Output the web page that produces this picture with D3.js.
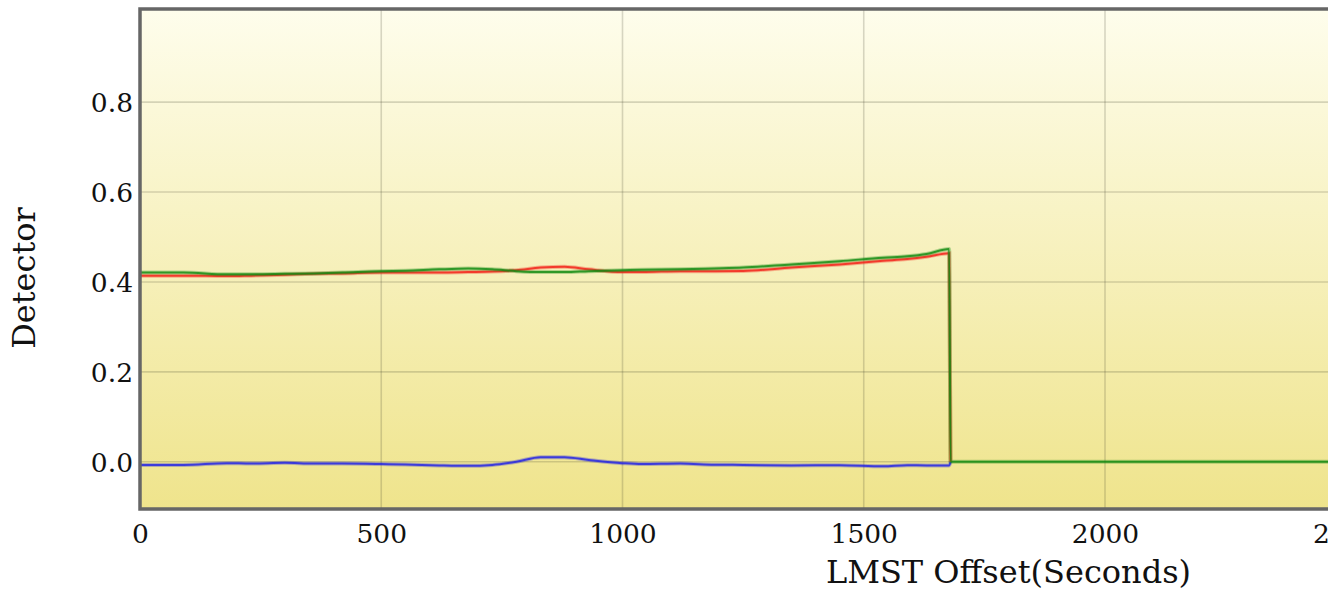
<!DOCTYPE html>
<html>
<head>
<meta charset="utf-8">
<script src="https://cdn.jsdelivr.net/npm/d3@7"></script>
<style>
html,body{margin:0;padding:0;background:#fff;overflow:hidden;}
svg{display:block;}
text{font-family:"DejaVu Serif",serif;fill:#111;}
</style>
</head>
<body>
<svg id="chart" width="1328" height="591"></svg>
<script>
// ---- data ----
const times = [0, 90, 180, 230, 300, 360, 420, 500, 550, 620, 680, 730, 780, 830, 880, 930, 1000, 1040, 1120, 1190, 1250, 1350, 1450, 1540, 1590, 1630, 1677, 1680, 3600];
const redValues = [0.414, 0.414, 0.413, 0.414, 0.416, 0.418, 0.419, 0.421, 0.421, 0.421, 0.422, 0.423, 0.426, 0.432, 0.434, 0.428, 0.422, 0.422, 0.424, 0.424, 0.4245, 0.432, 0.439, 0.447, 0.451, 0.456, 0.464, 0];
const blueValues = [-0.007, -0.007, -0.003, -0.004, -0.002, -0.004, -0.004, -0.005, -0.006, -0.008, -0.009, -0.007, 0.000, 0.010, 0.010, 0.004, -0.003, -0.005, -0.004, -0.0065, -0.007, -0.008, -0.0075, -0.010, -0.0075, -0.008, -0.008, 0];
const greenValues = [0.421, 0.421, 0.417, 0.417, 0.418, 0.419, 0.421, 0.424, 0.425, 0.428, 0.4296, 0.428, 0.424, 0.422, 0.422, 0.424, 0.426, 0.427, 0.428, 0.430, 0.432, 0.439, 0.446, 0.454, 0.457, 0.462, 0.473, 0, 0];
const xTicks = [0, 500, 1000, 1500, 2000, 2500, 3000, 3500];
const yTicks = [0.0, 0.2, 0.4, 0.6, 0.8];
const xTitle = "LMST Offset(Seconds)";
const yTitle = "Detector";

// ---- layout ----
const svg = d3.select("#chart");
const mL = 140, mT = 9, mB = 509, mR = 1877;
const x = d3.scaleLinear().domain([0, 3600]).range([mL, mR]);
const y = d3.scaleLinear().domain([-0.105, 1.007]).range([mB, mT]);

const defs = svg.append("defs");
const grad = defs.append("linearGradient").attr("id", "bg").attr("x1", 0).attr("y1", 0).attr("x2", 0).attr("y2", 1);
grad.append("stop").attr("offset", "0%").attr("stop-color", "#fefdec");
grad.append("stop").attr("offset", "100%").attr("stop-color", "#efe48c");
defs.append("clipPath").attr("id", "clip").append("rect")
  .attr("x", mL).attr("y", mT).attr("width", mR - mL).attr("height", mB - mT);

svg.append("rect").attr("x", mL).attr("y", mT).attr("width", mR - mL).attr("height", mB - mT)
  .attr("fill", "url(#bg)");

// grid
const g = svg.append("g").attr("clip-path", "url(#clip)");
g.selectAll(".vg").data(xTicks.filter(d => d > 0)).enter().append("line")
  .attr("x1", d => x(d)).attr("x2", d => x(d)).attr("y1", mT).attr("y2", mB)
  .attr("stroke", "rgba(60,60,40,0.2)").attr("stroke-width", 1.6);
g.selectAll(".hg").data(yTicks).enter().append("line")
  .attr("x1", mL).attr("x2", mR).attr("y1", d => y(d)).attr("y2", d => y(d))
  .attr("stroke", "rgba(60,60,40,0.2)").attr("stroke-width", 1.6);

// lines
const line = d3.line().x(d => x(d[0])).y(d => y(d[1])).curve(d3.curveMonotoneX);
const series = [
  {vals: blueValues, color: "#1f1fe6"},
  {vals: redValues, color: "#f21d14"},
  {vals: greenValues, color: "#0f8a0f"}
];
series.forEach(s => {
  const pts = s.vals.map((v, i) => [times[i], v]);
  g.append("path").attr("d", line(pts)).attr("fill", "none")
    .attr("stroke", s.color).attr("stroke-opacity", 0.3).attr("stroke-width", 4);
  g.append("path").attr("d", line(pts)).attr("fill", "none")
    .attr("stroke", s.color).attr("stroke-opacity", 0.8).attr("stroke-width", 2);
});

// border (left, top, bottom)
svg.append("path")
  .attr("d", `M${mR},${mT}H${mL}V${mB}H${mR}`)
  .attr("fill", "none").attr("stroke", "#666").attr("stroke-width", 3.5);

// axes
const xAxis = d3.axisBottom(x).tickValues(xTicks).tickSize(0).tickPadding(0).tickFormat(d3.format("d"));
const xg = svg.append("g").attr("transform", `translate(0,${mB})`).call(xAxis);
xg.select(".domain").remove();
xg.selectAll("text").attr("dy", null).attr("y", 34).attr("font-size", 26.5).attr("fill", "#111")
  .attr("font-family", "DejaVu Serif");

const yAxis = d3.axisLeft(y).tickValues(yTicks).tickSize(0).tickPadding(0).tickFormat(d3.format(".1f"));
const yg = svg.append("g").attr("transform", `translate(${mL},0)`).call(yAxis);
yg.select(".domain").remove();
yg.selectAll("text").attr("x", -7).attr("dy", "0.35em").attr("font-size", 26.5).attr("fill", "#111")
  .attr("font-family", "DejaVu Serif");

// titles
svg.append("text").attr("x", (mL + mR) / 2).attr("y", 583).attr("text-anchor", "middle")
  .attr("font-size", 32).text(xTitle);
svg.append("text").attr("transform", "translate(35,278) rotate(-90)").attr("text-anchor", "middle")
  .attr("font-size", 32).text(yTitle);
</script>
</body>
</html>
